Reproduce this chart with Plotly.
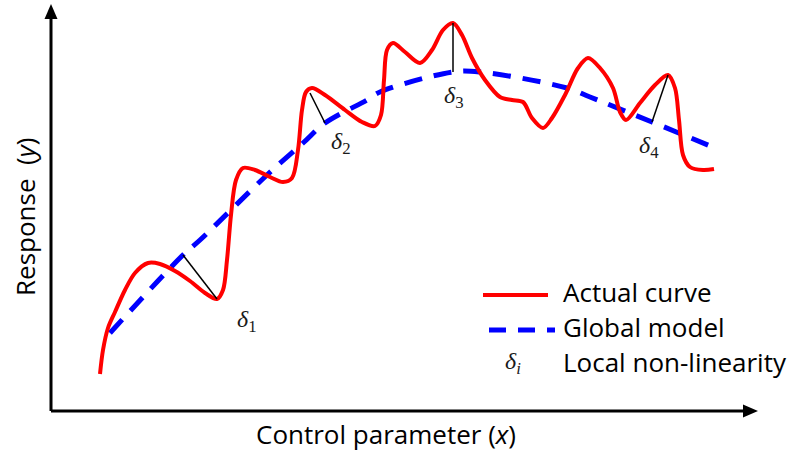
import plotly.graph_objects as go

# Actual (wavy) response curve
actual_x = [49, 52, 57, 64, 74, 84, 97, 109, 124, 139, 154, 166, 172, 176, 180, 185, 192,
            204, 219, 232, 241, 247, 251, 255, 261, 274, 294, 311, 324, 330, 333, 336, 342,
            354, 369, 381, 392, 402, 411, 421, 434, 449, 461, 472, 481, 492, 501, 514, 527,
            537, 549, 562, 569, 575, 589, 604, 617, 624, 628, 632, 639, 652, 663]
actual_y = [37, 61, 83, 99, 121, 138, 148, 147, 140, 130, 118, 112, 121, 151, 196, 231, 243,
            241, 234, 229, 233, 261, 301, 319, 323, 316, 301, 289, 285, 296, 331, 361, 368,
            359, 348, 361, 381, 388, 376, 353, 331, 314, 311, 309, 293, 283, 293, 316, 343,
            353, 343, 323, 299, 291, 308, 326, 336, 323, 291, 256, 244, 241, 242]

# Smooth global model
model_x = [59, 132, 149, 216, 252, 274, 316, 329, 402, 429, 516, 539, 601, 664]
model_y = [78, 156, 171, 236, 268, 288, 311, 319, 339, 339, 323, 314, 289, 263]

# Local non-linearity segments: point on actual curve -> point on model
delta_names = ["1", "2", "3", "4"]
delta_actual_x = [166, 259, 402, 617]
delta_actual_y = [112, 318, 388, 336]
delta_model_x = [132, 274, 402, 601]
delta_model_y = [156, 288, 339, 289]
delta_label_x = [196, 290, 403, 598]
delta_label_y = [90, 268, 314, 264]

legend_labels = ["Actual curve", "Global model", "Local non-linearity"]
x_title = "Control parameter (<i>x</i>)"
y_title = "Response  (<i>y</i>)"

RED = "#ff0000"
BLUE = "#0000ff"
SANS = "Open Sans, Segoe UI, sans-serif"
SERIF = "Liberation Serif, Times New Roman, serif"
TXT = 26

fig = go.Figure()

fig.add_trace(go.Scatter(x=model_x, y=model_y, mode="lines",
                         line=dict(color=BLUE, width=5, dash="18px,12px", shape="spline", smoothing=1.0),
                         hoverinfo="skip", showlegend=False))
fig.add_trace(go.Scatter(x=actual_x, y=actual_y, mode="lines",
                         line=dict(color=RED, width=4, shape="spline", smoothing=0.9),
                         hoverinfo="skip", showlegend=False))

for i in range(len(delta_names)):
    fig.add_trace(go.Scatter(x=[delta_actual_x[i], delta_model_x[i]],
                             y=[delta_actual_y[i], delta_model_y[i]],
                             mode="lines", line=dict(color="black", width=1.5),
                             hoverinfo="skip", showlegend=False))
    fig.add_annotation(x=delta_label_x[i], y=delta_label_y[i],
                       text=f"<i>δ</i><sub>{delta_names[i]}</sub>",
                       showarrow=False, xanchor="center", yanchor="middle",
                       font=dict(family=SERIF, size=24, color="#1a1a1a"))

shapes = []
# axes with arrowheads
shapes.append(dict(type="line", x0=0, y0=0, x1=0, y1=395, line=dict(color="black", width=3)))
shapes.append(dict(type="line", x0=0, y0=0, x1=694, y1=0, line=dict(color="black", width=3)))
shapes.append(dict(type="path", path="M -6.5 392 L 6.5 392 L 0 407 Z",
                   fillcolor="black", line=dict(color="black", width=0)))
shapes.append(dict(type="path", path="M 692 -6.5 L 692 6.5 L 707 0 Z",
                   fillcolor="black", line=dict(color="black", width=0)))

# legend keys
shapes.append(dict(type="line", x0=432, y0=116, x1=497, y1=116, line=dict(color=RED, width=4)))
shapes.append(dict(type="line", x0=438, y0=81, x1=504, y1=81,
                   line=dict(color=BLUE, width=5, dash="17px,12px")))
fig.add_annotation(x=462, y=48, text="<i>δ</i><sub><i>i</i></sub>", showarrow=False,
                   xanchor="center", yanchor="middle",
                   font=dict(family=SERIF, size=24, color="#1a1a1a"))
for label, ly in zip(legend_labels, [119, 84, 49]):
    fig.add_annotation(x=510, y=ly, text=label, showarrow=False,
                       xanchor="left", yanchor="middle",
                       font=dict(family=SANS, size=TXT, color="black"))

# axis titles
fig.add_annotation(x=335, y=-23, text=x_title, showarrow=False,
                   xanchor="center", yanchor="middle",
                   font=dict(family=SANS, size=TXT, color="black"))
fig.add_annotation(x=-26, y=194, text=y_title, showarrow=False, textangle=-90,
                   xanchor="center", yanchor="middle",
                   font=dict(family=SANS, size=TXT, color="black"))

fig.update_layout(
    width=795, height=452,
    margin=dict(l=0, r=0, t=0, b=0),
    paper_bgcolor="white", plot_bgcolor="white",
    shapes=shapes,
    xaxis=dict(range=[-51, 744], visible=False, fixedrange=True),
    yaxis=dict(range=[-41, 411], visible=False, fixedrange=True),
)

fig.write_html("out.html")
